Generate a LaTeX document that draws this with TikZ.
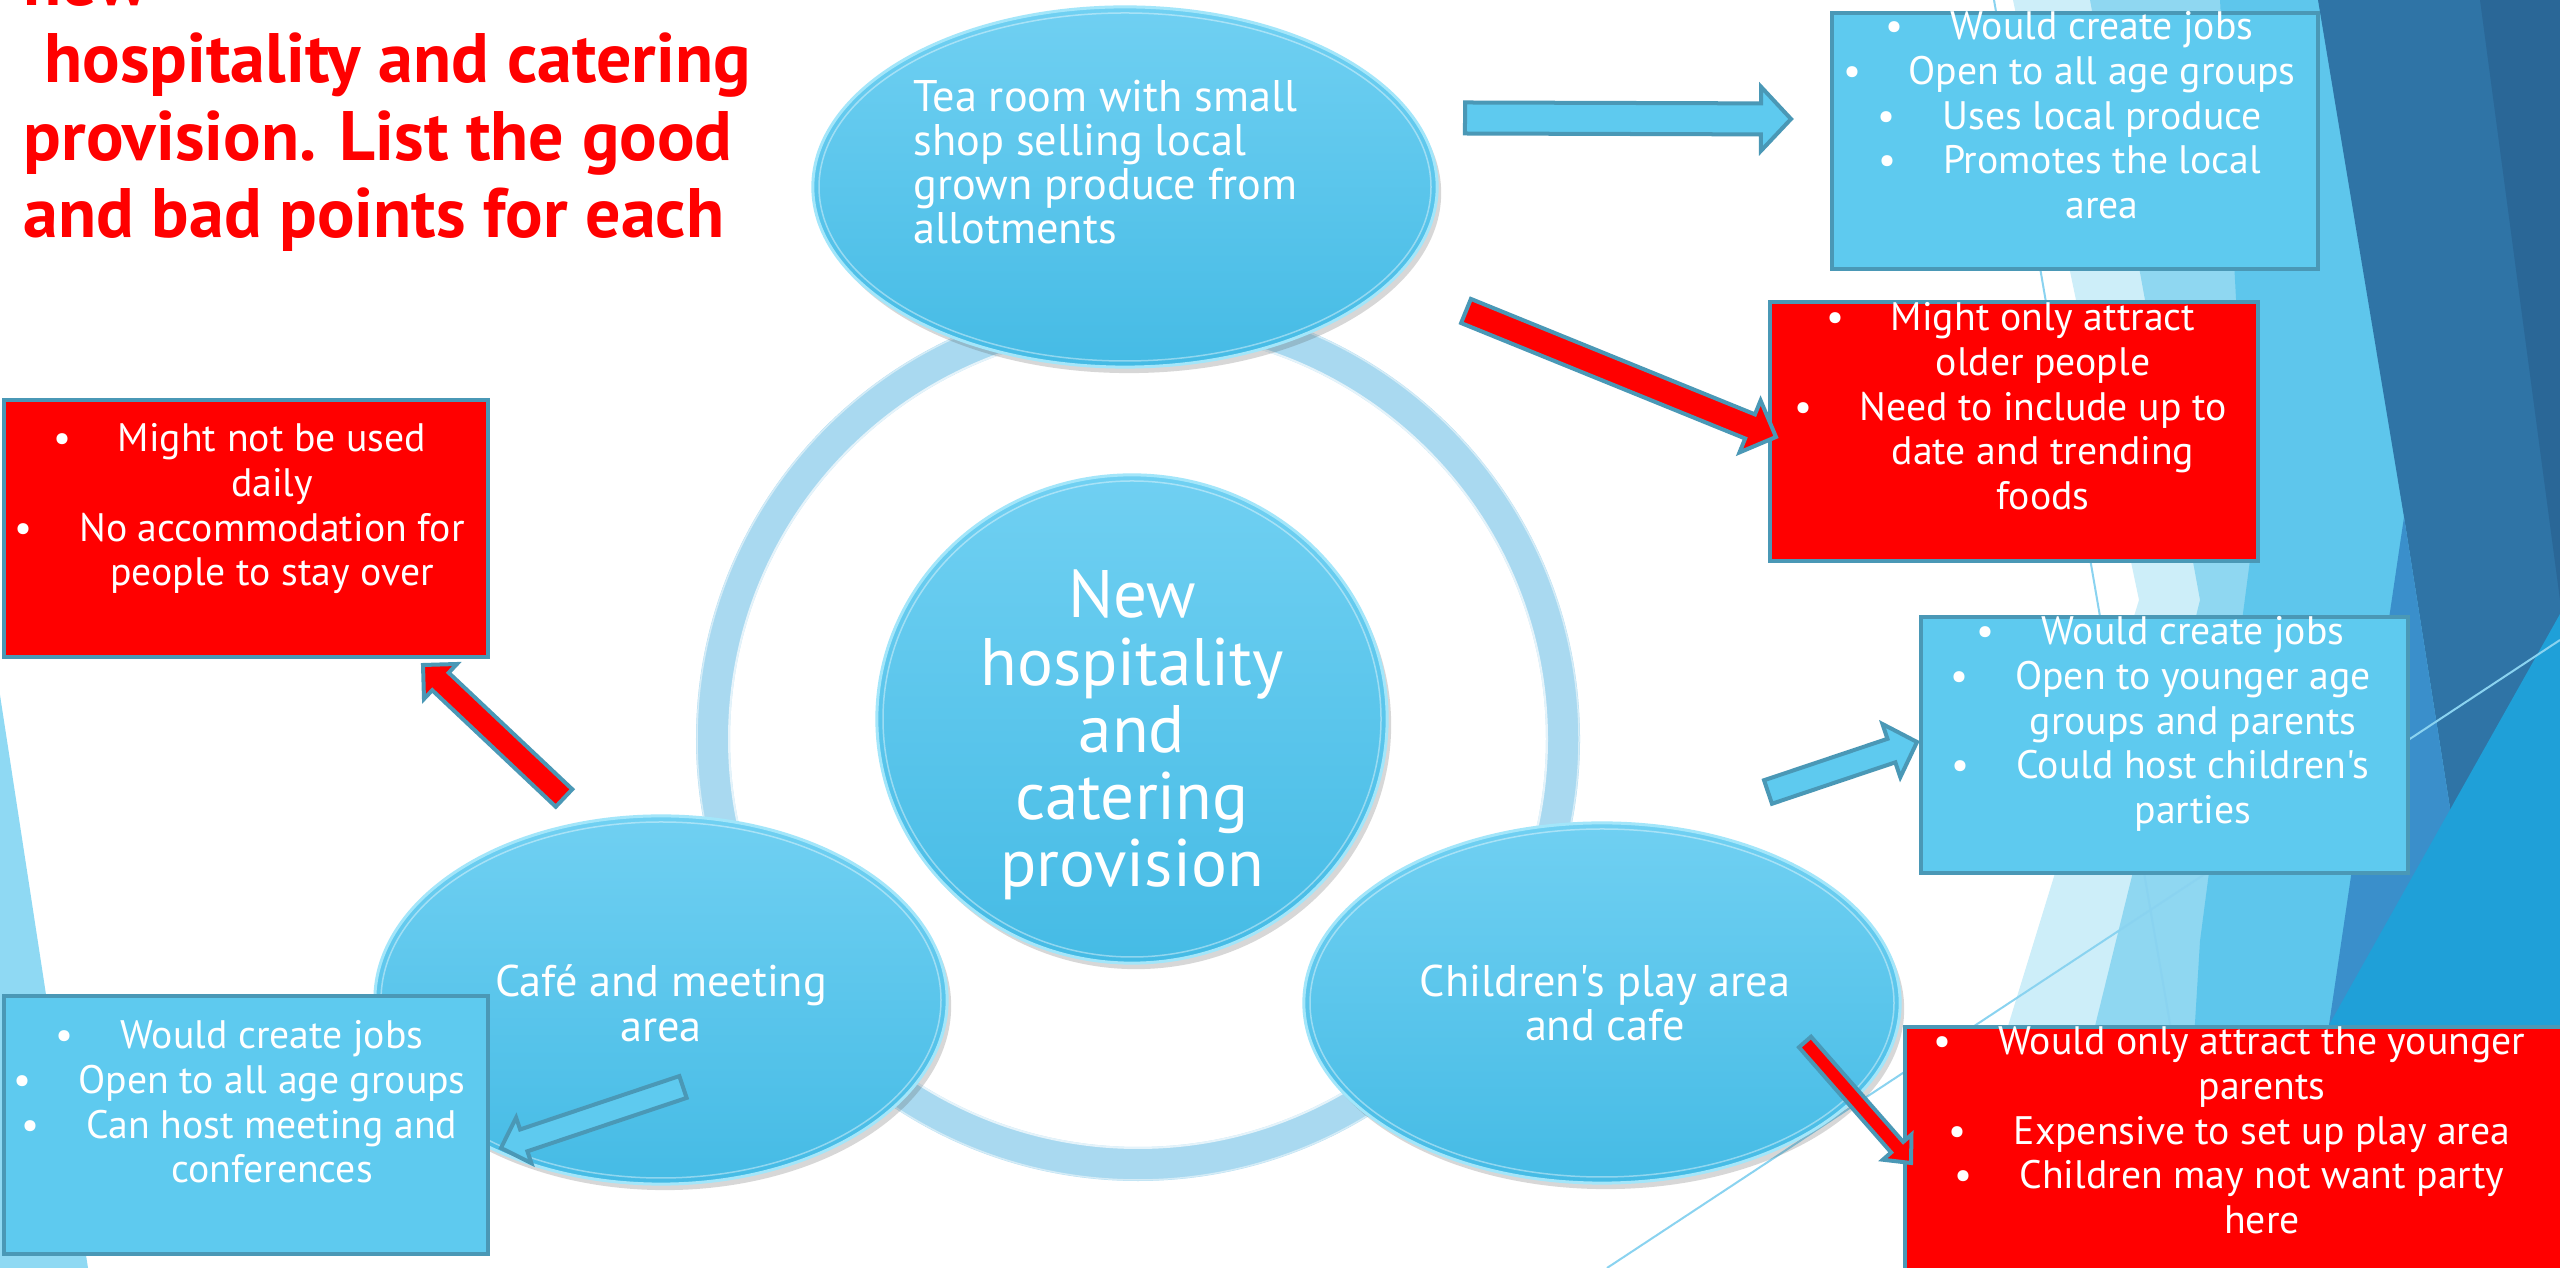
\documentclass[tikz,border=0pt]{standalone}
\usepackage{fontspec}
\setmainfont{PT Sans}[Ligatures=TeXOff]
\usetikzlibrary{shapes.geometric,calc,shadows}

\definecolor{boxblue}{HTML}{5ECAEF}
\definecolor{edgeteal}{HTML}{4A98B6}
\definecolor{alertred}{HTML}{FF0000}
\definecolor{orbtop}{HTML}{70D0F2}
\definecolor{orbbot}{HTML}{45BBE5}
\definecolor{orbrim}{HTML}{A3E6FA}
\definecolor{ringblue}{HTML}{A9D9F0}
\definecolor{facetpale}{HTML}{CDEEF9}
\definecolor{facetlight}{HTML}{8FD7F1}
\definecolor{facetcyan}{HTML}{5EC6EC}
\definecolor{facetmid}{HTML}{3A8FCB}
\definecolor{facetbright}{HTML}{1FA0D8}
\definecolor{facetdark}{HTML}{2F74A6}
\definecolor{facetdeep}{HTML}{2A6797}
\definecolor{sliver}{HTML}{8FD9F3}
\definecolor{hairline}{HTML}{8AD3F0}

% centred / left-aligned stacks of lines; baseline of the whole stack = first line
\newcommand\centrelines[2]{\vtop{\baselineskip=#1\lineskiplimit=-40pt\lineskip=0pt\halign{\hfil##\hfil\cr#2\crcr}}}
\newcommand\leftlines[2]{\vtop{\baselineskip=#1\lineskiplimit=-40pt\lineskip=0pt\halign{##\hfil\cr#2\crcr}}}
% bullet hanging to the left of a centred line
\newcommand\itembul{\llap{\textbullet\hspace{13.3pt}}}

% block arrow: style, tail, tip, half shaft width, half head width, head length
\newcommand\blockarrow[6]{%
  \coordinate (#2#3-h) at ($(#3)!#6!(#2)$);
  \draw[#1] ($(#2)!#4!90:(#3)$) -- ($(#2#3-h)!#4!-90:(#2)$) -- ($(#2#3-h)!#5!-90:(#2)$)
    -- (#3) -- ($(#2#3-h)!#5!90:(#2)$) -- ($(#2#3-h)!#4!90:(#2)$) -- ($(#2)!#4!-90:(#3)$) -- cycle;}

\begin{document}
\begin{tikzpicture}[x=0.01cm, y=-0.01cm,
  goodbox/.style={rectangle, draw=edgeteal, line width=0.04cm, fill=boxblue, inner sep=0, anchor=north west},
  badbox/.style={goodbox, fill=alertred},
  orb/.style={ellipse, inner sep=0, top color=orbtop, bottom color=orbbot, draw=orbrim, line width=0.03cm,
    drop shadow={shadow xshift=0.04cm, shadow yshift=-0.06cm, opacity=0.22, fill=black!70}},
  orbglint/.style={white, opacity=0.4, line width=0.015cm},
  boxtext/.style={text=white, inner sep=0, anchor=base, font=\fontsize{11.3pt}{12.7pt}\selectfont},
  orbtext/.style={text=white, inner sep=0, anchor=base, font=\fontsize{12.6pt}{12.6pt}\selectfont},
  hubtext/.style={text=white, inner sep=0, anchor=base, font=\fontsize{19.1pt}{19.1pt}\selectfont},
  headline/.style={text=alertred, inner sep=0, anchor=base west, font=\fontsize{19.9pt}{21.9pt}\selectfont\bfseries},
  goodarrow/.style={fill=boxblue, draw=edgeteal, line width=0.04cm, line join=miter},
  badarrow/.style={goodarrow, fill=alertred}]

\useasboundingbox (0,0) rectangle (2560,1268);
\clip (0,0) rectangle (2560,1268);
\fill[white] (0,0) rectangle (2560,1268);

% ---- background facets ----
\fill[sliver] (0,695) -- (88,1268) -- (0,1268) -- cycle;
\fill[facetpale] (2013,0) -- (2560,0) -- (2560,1268) -- (1975,1268) -- (2008,1026) -- (2139,600) -- cycle;
\fill[facetlight] (2090,0) -- (2560,0) -- (2560,1268) -- (2060,1268) -- (2095,1026) -- (2200,600) -- cycle;
\fill[facetcyan] (2220,0) -- (2560,0) -- (2560,1268) -- (2180,1268) -- (2200,941) -- (2250,560) -- cycle;
\fill[facetdark] (2318,0) -- (2560,0) -- (2560,1268) -- (2500,1268) -- (2450,808) -- (2404,517) -- cycle;
\fill[facetdeep] (2480,0) -- (2560,0) -- (2560,600) -- cycle;
\fill[facetmid] (2404,517) -- (2450,808) -- (2480,1000) -- (2329,1025) -- cycle;
\fill[facetbright] (2560,614) -- (2560,1268) -- (2192,1268) -- (2329,1025) -- cycle;
\draw[hairline, line width=0.02cm] (1994,0) -- (2212,1268);
\draw[hairline, line width=0.02cm] (1607,1268) -- (2560,640);

% ---- cycle ring ----
\coordinate (hub) at (1138,739);
\draw[ringblue, line width=0.34cm] (hub) circle [radius=425];
\draw[white, opacity=0.7, line width=0.02cm] (hub) circle [radius=409];
\draw[white, opacity=0.5, line width=0.015cm] (hub) circle [radius=441];

% ---- orbs ----
\node[orb, minimum width=5.10cm, minimum height=4.88cm] (core) at (1132,719) {};
\draw[orbglint] (core.center) ellipse [x radius=249, y radius=238];
\node[orb, minimum width=6.24cm, minimum height=3.60cm] (tea) at (1125,187) {};
\draw[orbglint] (tea.center) ellipse [x radius=306, y radius=174];
\node[orb, minimum width=5.72cm, minimum height=3.68cm] (cafe) at (661,1000) {};
\draw[orbglint] (cafe.center) ellipse [x radius=280, y radius=178];
\node[orb, minimum width=5.96cm, minimum height=3.60cm] (play) at (1602,1003) {};
\draw[orbglint] (play.center) ellipse [x radius=292, y radius=174];

\node[hubtext] (core-t) at (1132,618) {\centrelines{19.1pt}{New\cr hospitality\cr and\cr catering\cr provision}};
\node[orbtext, anchor=base west] (tea-t) at (913,112) {\leftlines{12.5pt}{Tea room with small\cr shop selling local\cr grown produce from\cr allotments}};
\node[orbtext] (cafe-t) at (661,997) {\centrelines{12.6pt}{Caf\'e and meeting\cr area}};
\node[orbtext] (play-t) at (1605,997) {\centrelines{12.3pt}{Children's play area\cr and cafe}};

% ---- good / bad point boxes ----
\node[goodbox, minimum width=4.86cm, minimum height=2.56cm] (tea-good) at (1830,11) {};
\node[badbox, minimum width=4.88cm, minimum height=2.59cm] (tea-bad) at (1768,300) {};
\node[goodbox, minimum width=4.87cm, minimum height=2.56cm] (play-good) at (1919,615) {};
\node[badbox, minimum width=6.70cm, minimum height=2.70cm] (play-bad) at (1903,1025) {};
\node[badbox, minimum width=4.84cm, minimum height=2.57cm] (cafe-bad) at (2,398) {};
\node[goodbox, minimum width=4.84cm, minimum height=2.58cm] (cafe-good) at (2,994) {};

\node[boxtext] (tea-good-t) at (2102,40) {\centrelines{12.7pt}{\itembul Would create jobs\cr
  \itembul Open to all age groups\cr \itembul Uses local produce\cr \itembul Promotes the local\cr area}};
\node[boxtext] (tea-bad-t) at (2043,331) {\centrelines{12.7pt}{\itembul Might only attract\cr
  older people\cr \itembul Need to include up to\cr date and trending\cr foods}};
\node[boxtext] (play-good-t) at (2193,645) {\centrelines{12.7pt}{\itembul Would create jobs\cr
  \itembul Open to younger age\cr groups and parents\cr \itembul Could host children's\cr parties}};
\node[boxtext] (play-bad-t) at (2262,1055) {\centrelines{12.7pt}{\itembul Would only attract the younger\cr
  parents\cr \itembul Expensive to set up play area\cr \itembul Children may not want party\cr here}};
\node[boxtext] (cafe-bad-t) at (272,452) {\centrelines{12.7pt}{\itembul Might not be used\cr
  daily\cr \itembul No accommodation for\cr people to stay over}};
\node[boxtext] (cafe-good-t) at (272,1049) {\centrelines{12.7pt}{\itembul Would create jobs\cr
  \itembul Open to all age groups\cr \itembul Can host meeting and\cr conferences}};

% ---- heading ----
\node[headline] (heading) at (23,6) {\leftlines{21.9pt}{new\cr \hspace*{0.3em}hospitality and catering\cr
  provision. List the good\cr and bad points for each}};

% ---- block arrows ----
\coordinate (a1s) at (1465,118);  \coordinate (a1e) at (1791,119);
\coordinate (a2s) at (1466,311);  \coordinate (a2e) at (1776,437);
\coordinate (a3s) at (1768,792);  \coordinate (a3e) at (1917,742);
\coordinate (a4s) at (1805,1042); \coordinate (a4e) at (1911,1163);
\coordinate (a5s) at (564,798);   \coordinate (a5e) at (423,665);
\coordinate (a6s) at (683,1087);  \coordinate (a6e) at (501,1148);
\blockarrow{goodarrow}{a1s}{a1e}{0.155cm}{0.32cm}{0.30cm}
\blockarrow{badarrow}{a2s}{a2e}{0.13cm}{0.28cm}{0.28cm}
\blockarrow{goodarrow}{a3s}{a3e}{0.124cm}{0.28cm}{0.27cm}
\blockarrow{badarrow}{a4s}{a4e}{0.08cm}{0.19cm}{0.21cm}
\blockarrow{badarrow}{a5s}{a5e}{0.12cm}{0.24cm}{0.24cm}
\blockarrow{goodarrow}{a6s}{a6e}{0.115cm}{0.24cm}{0.24cm}

\end{tikzpicture}
\end{document}
